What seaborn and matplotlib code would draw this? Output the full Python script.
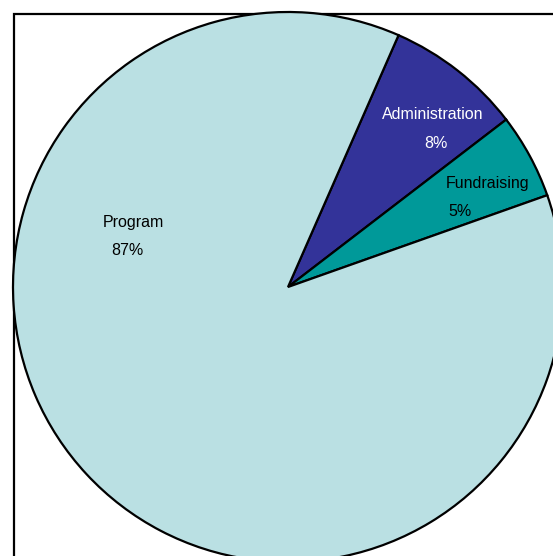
import matplotlib.pyplot as plt
from matplotlib.patches import Rectangle
import seaborn as sns

categories = ["Administration", "Fundraising", "Program"]
shares = [8, 5, 87]
colors = ["#333399", "#009999", "#BAE0E3"]
text_colors = ["white", "black", "black"]

# label / percent positions inside the wedges (pie radius = 1)
label_pos = [(0.527, 0.629), (0.727, 0.378), (-0.564, 0.236)]
pct_pos = [(0.538, 0.52), (0.625, 0.273), (-0.585, 0.131)]

sns.set_style("white")
plt.rcParams["font.family"] = ["Liberation Sans", "DejaVu Sans"]

fig = plt.figure(figsize=(5.53, 5.56), dpi=100)
ax = fig.add_axes([0, 0, 1, 1])

wedges, _ = ax.pie(
    shares,
    colors=colors,
    startangle=66.3,
    counterclock=False,
    wedgeprops={"edgecolor": "black", "linewidth": 1.6},
)

for i, name in enumerate(categories):
    ax.text(*label_pos[i], name, ha="center", va="center",
            fontsize=11.5, color=text_colors[i])
    ax.text(*pct_pos[i], f"{shares[i]}%", ha="center", va="center",
            fontsize=11.5, color=text_colors[i])

cx, cy, r = 288, 287, 275
ax.set_xlim(-cx / r, (553 - cx) / r)
ax.set_ylim((cy - 556) / r, cy / r)
ax.set_aspect("auto")
ax.axis("off")

# outer frame (only left and top edges are visible)
fig.add_artist(Rectangle((14 / 553, -0.2), 1.2, 1.2 - 14 / 556,
                         transform=fig.transFigure, fill=False,
                         edgecolor="black", linewidth=1.6, zorder=0))

fig.savefig("out.png", dpi=100)
